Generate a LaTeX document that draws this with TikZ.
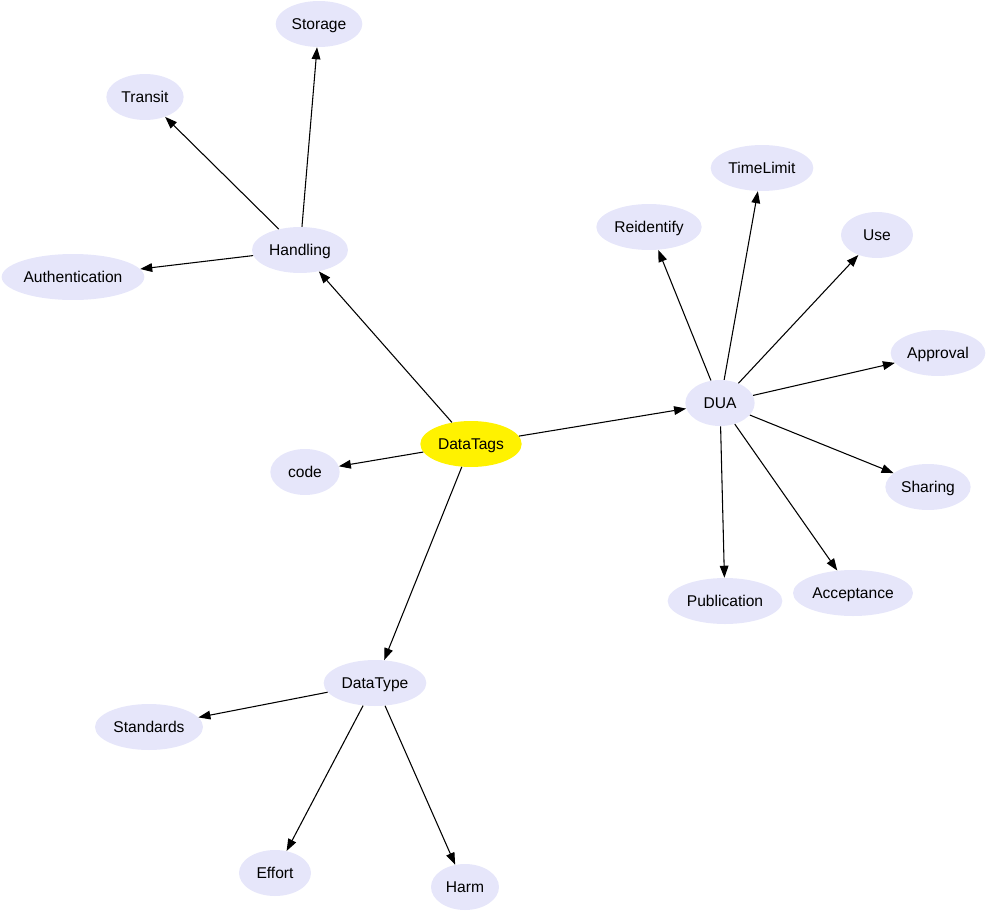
\documentclass[tikz,border=0pt]{standalone}
\usepackage{fontspec}
\setmainfont{Liberation Sans}
\usetikzlibrary{arrows.meta,shapes.geometric}
\definecolor{lav}{HTML}{E6E6FA}
\begin{document}
\begin{tikzpicture}[x=0.75pt,y=-0.75pt,>={Triangle[length=9pt,width=6.5pt]},
 tag/.style={ellipse,fill=lav,inner sep=0pt,minimum height=34.5pt,text height=8.3pt,text depth=0pt,font=\fontsize{11.7}{13}\selectfont},
 root/.style={tag,fill=yellow},
 ln/.style={->,line width=0.8pt}]
\useasboundingbox (0,0) rectangle (988,913);
\node[root,minimum width=76pt] (tags) at (471,444) {DataTags};
\node[tag,minimum width=72pt] (hand) at (300,250) {Handling};
\node[tag,minimum width=65pt] (stor) at (319,24) {Storage};
\node[tag,minimum width=58pt] (tran) at (145,97) {Transit};
\node[tag,minimum width=107pt] (auth) at (73,277) {Authentication};
\node[tag,minimum width=52pt] (code) at (305,472) {code};
\node[tag,minimum width=52pt] (dua) at (720,403) {DUA};
\node[tag,minimum width=79pt] (reid) at (649,227) {Reidentify};
\node[tag,minimum width=77pt] (time) at (762,168) {TimeLimit};
\node[tag,minimum width=54pt] (use) at (877,235) {Use};
\node[tag,minimum width=71pt] (appr) at (938,353) {Approval};
\node[tag,minimum width=64pt] (shar) at (928,487) {Sharing};
\node[tag,minimum width=90pt] (acc) at (853,593) {Acceptance};
\node[tag,minimum width=86pt] (pub) at (725,601) {Publication};
\node[tag,minimum width=77pt] (dtype) at (375,683) {DataType};
\node[tag,minimum width=81pt] (std) at (149,727) {Standards};
\node[tag,minimum width=54pt] (eff) at (275,873) {Effort};
\node[tag,minimum width=51pt] (harm) at (465,887) {Harm};
\draw[ln] (tags) -- (hand);
\draw[ln] (tags) -- (code);
\draw[ln] (tags) -- (dua);
\draw[ln] (tags) -- (dtype);
\draw[ln] (hand) -- (stor);
\draw[ln] (hand) -- (tran);
\draw[ln] (hand) -- (auth);
\draw[ln] (dua) -- (reid);
\draw[ln] (dua) -- (time);
\draw[ln] (dua) -- (use);
\draw[ln] (dua) -- (appr);
\draw[ln] (dua) -- (shar);
\draw[ln] (dua) -- (acc);
\draw[ln] (dua) -- (pub);
\draw[ln] (dtype) -- (std);
\draw[ln] (dtype) -- (eff);
\draw[ln] (dtype) -- (harm);
\end{tikzpicture}
\end{document}
